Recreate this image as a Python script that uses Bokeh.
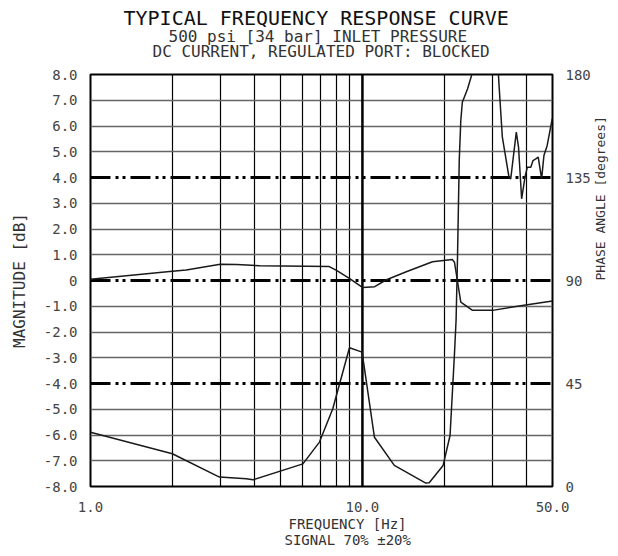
import math
from bokeh.plotting import figure
from bokeh.models import Range1d, LinearAxis, FixedTicker, Span, Title, PrintfTickFormatter
from bokeh.embed import file_html
from bokeh.resources import INLINE

FONT = "DejaVu Sans Mono"

# Magnitude curve [dB] vs frequency [Hz]
mag_freq = [1.0, 2.0, 2.25, 3.0, 3.45, 4.2, 7.55, 8.0, 8.95, 10.0, 11.1, 12.2, 14.5, 18.1, 21.4, 21.8,
            23.0, 25.4, 30.1, 38.7, 50.0]
mag_db = [0.05, 0.36, 0.41, 0.63, 0.62, 0.57, 0.54, 0.40, 0.08, -0.27, -0.24, 0.02, 0.34, 0.73, 0.82, 0.71,
          -0.84, -1.16, -1.16, -0.97, -0.80]

# Phase curve [degrees] vs frequency [Hz]
phase_freq = [1.0, 2.0, 2.98, 3.74, 3.96, 6.04, 6.95, 7.78, 8.96, 9.97, 11.07, 13.1, 17.1, 17.6, 19.8, 21.0,
              21.8, 22.1, 22.37, 22.7, 23.0, 23.3, 24.35, 25.4, 28.0, 31.6, 31.8, 32.7, 34.6, 35.1, 36.8,
              37.5, 38.5, 39.6, 40.4, 41.6, 42.4, 43.4, 44.3, 44.9, 45.6, 46.5, 47.8, 49.9]
phase_deg = [23.7, 14.3, 4.1, 3.4, 2.9, 9.9, 19.4, 34.0, 60.6, 58.7, 21.5, 9.2, 1.5, 1.6, 9.2, 22.3,
             57.9, 72.6, 100.1, 142.4, 159.9, 167.9, 173.7, 181.0, 200.0, 181.0, 175.2, 152.6, 135.1, 134.4, 154.8,
             148.3, 125.7, 135.1, 139.5, 139.5, 142.4, 143.1, 143.9, 139.5, 134.4, 144.6, 149.0, 160.7]

x_ticks = [1, 10, 50]
x_grid = [2, 3, 4, 5, 6, 7, 8, 9, 20, 30, 40]
y_ticks = list(range(-8, 9))
y_grid = [-7, -6, -5, -3, -2, -1, 1, 2, 3, 5, 6, 7]
y_dashdot = [-4, 0, 4]
phase_ticks = [0, 45, 90, 135, 180]

W, H = 618, 554
p = figure(width=W, height=H, x_axis_type="log", x_range=Range1d(1, 50), y_range=Range1d(-8, 8),
           output_backend="svg", toolbar_location=None, title=None,
           min_border_left=90, min_border_right=W - 554, min_border_top=74, min_border_bottom=H - 486)
p.background_fill_color = "white"
p.border_fill_color = "white"
p.outline_line_color = "black"
p.outline_line_width = 2
p.outline_line_alpha = 1

p.extra_y_ranges = {"phase": Range1d(0, 180)}

def style_axis(ax):
    ax.axis_line_color = None
    ax.major_tick_line_color = None
    ax.minor_tick_line_color = None
    ax.major_tick_out = 0
    ax.major_tick_in = 0
    ax.minor_tick_out = 0
    ax.minor_tick_in = 0
    ax.major_label_text_font = FONT
    ax.major_label_text_font_size = "14px"
    ax.major_label_text_color = "#444444"
    ax.axis_label_text_font = FONT
    ax.axis_label_text_font_size = "16px"
    ax.axis_label_text_font_style = "normal"
    ax.axis_label_text_color = "#333333"

xa = p.xaxis[0]
xa.ticker = FixedTicker(ticks=x_ticks)
xa.formatter = PrintfTickFormatter(format="%.1f")
xa.major_label_standoff = 15
style_axis(xa)

ya = p.yaxis[0]
ya.ticker = FixedTicker(ticks=y_ticks)
ya.formatter = PrintfTickFormatter(format="%.1f")
ya.major_label_overrides = {0: "0"}
ya.major_label_standoff = 13
ya.axis_label = "MAGNITUDE [dB]"
ya.axis_label_standoff = 12
style_axis(ya)

ra = LinearAxis(y_range_name="phase", ticker=FixedTicker(ticks=phase_ticks), axis_label="PHASE ANGLE [degrees]")
style_axis(ra)
ra.major_label_standoff = 13
ra.axis_label_standoff = 7
ra.axis_label_text_font_size = "13px"
try:
    ra.axis_label_orientation = math.pi / 2
except Exception:
    pass
p.add_layout(ra, "right")

p.xgrid.ticker = FixedTicker(ticks=x_grid)
p.xgrid.grid_line_color = "black"
p.xgrid.grid_line_width = 1.2
p.ygrid.ticker = FixedTicker(ticks=y_grid)
p.ygrid.grid_line_color = "#666666"
p.ygrid.grid_line_width = 1.5

for yv in y_dashdot:
    p.add_layout(Span(location=yv, dimension="width", line_color="black", line_width=3,
                      line_dash="20 5 3 4 3 5", level="underlay"))
p.add_layout(Span(location=10, dimension="height", line_color="black", line_width=2.5, level="underlay"))

p.line(mag_freq, mag_db, line_color="#1a1a1a", line_width=1.5)
p.line(phase_freq, phase_deg, y_range_name="phase", line_color="#1a1a1a", line_width=1.5)

# titles (stacked outward from the frame); left-aligned with offsets for horizontal placement
spacer = Title(text=" ", align="left", text_font=FONT, text_font_size="14px", standoff=-1)
sub2 = Title(text="DC CURRENT, REGULATED PORT: BLOCKED", align="left", text_font=FONT,
             text_font_size="16px", text_font_style="normal", text_color="#333333", standoff=-7, offset=62)
sub1 = Title(text="500 psi [34 bar] INLET PRESSURE", align="left", text_font=FONT,
             text_font_size="16px", text_font_style="normal", text_color="#333333", standoff=-5, offset=78)
main = Title(text="TYPICAL FREQUENCY RESPONSE CURVE", align="left", text_font=FONT,
             text_font_size="20px", text_font_style="normal", text_color="#111111", standoff=-4, offset=33)
p.add_layout(spacer, "above")
p.add_layout(sub2, "above")
p.add_layout(sub1, "above")
p.add_layout(main, "above")

bl1 = Title(text="FREQUENCY [Hz]", align="left", text_font=FONT, text_font_size="14px",
            text_font_style="normal", text_color="#333333", standoff=-1, offset=198)
bl2 = Title(text="SIGNAL 70% \u00b120%", align="left", text_font=FONT, text_font_size="14px",
            text_font_style="normal", text_color="#333333", standoff=-4, offset=194)
p.add_layout(bl1, "below")
p.add_layout(bl2, "below")

open("out.html", "w").write(file_html(p, INLINE))
